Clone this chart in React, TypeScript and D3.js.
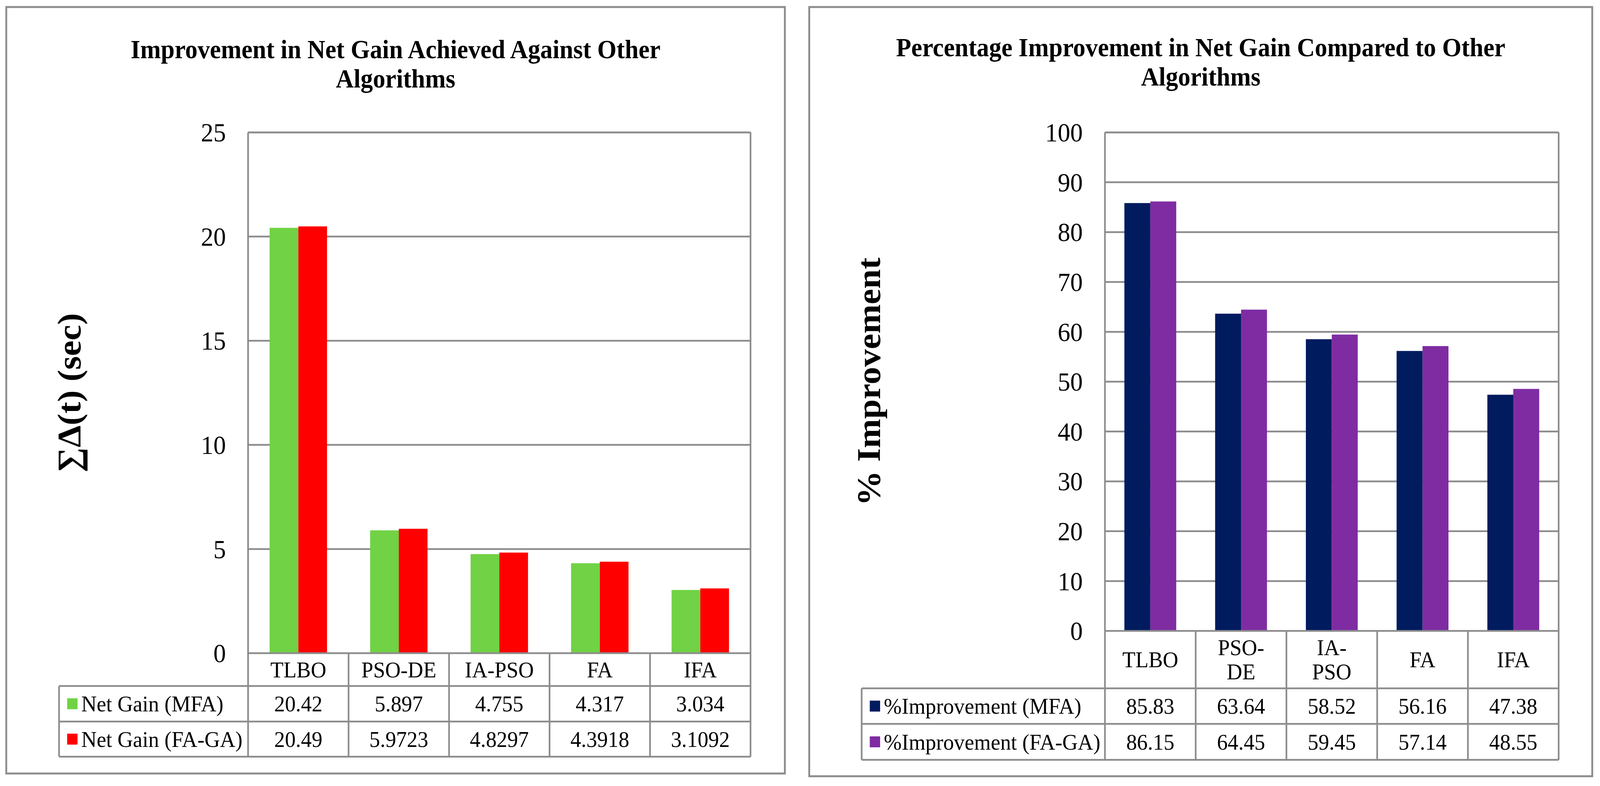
import * as d3 from "d3";
import React from "react";

const categories = ["TLBO", "PSO-DE", "IA-PSO", "FA", "IFA"];
const pctCategoryLines = [["TLBO"], ["PSO-", "DE"], ["IA-", "PSO"], ["FA"], ["IFA"]];

const netGainMFA = [20.42, 5.897, 4.755, 4.317, 3.034];
const netGainFAGA = [20.49, 5.9723, 4.8297, 4.3918, 3.1092];
const netGainTicks = [0, 5, 10, 15, 20, 25];

const pctMFA = [85.83, 63.64, 58.52, 56.16, 47.38];
const pctFAGA = [86.15, 64.45, 59.45, 57.14, 48.55];
const pctTicks = [0, 10, 20, 30, 40, 50, 60, 70, 80, 90, 100];

const GRID = "#8c8c8c";
const FONT = "'Liberation Serif', 'Times New Roman', serif";
const W = 4334;
const H = 2012;

interface Series {
  name: string;
  color: string;
  values: number[];
}

interface PanelProps {
  frame: { x: number; y: number; w: number; h: number };
  plot: { x0: number; x1: number; y0: number; y1: number };
  tableLeft: number;
  rows: number[];
  title: string[];
  titleY: number[];
  yLabel: string;
  yLabelX: number;
  yMax: number;
  ticks: number[];
  catLines: string[][];
  series: Series[];
}

const Panel: React.FC<PanelProps> = (p) => {
  const x = d3.scaleBand<string>().domain(categories).range([p.plot.x0, p.plot.x1]).paddingInner(0).paddingOuter(0);
  // Excel style: two bars per category, 150% gap width
  const inner = d3
    .scaleBand<string>()
    .domain(p.series.map((s) => s.name))
    .range([0, x.bandwidth()])
    .paddingInner(0)
    .paddingOuter(0.75);
  const y = d3.scaleLinear().domain([0, p.yMax]).range([p.plot.y1, p.plot.y0]);
  const cx = p.frame.x + p.frame.w / 2;
  const [rCat, rTop, rMid, rBot] = p.rows;
  const catMid = (rCat + rTop) / 2;

  return (
    <g>
      <rect x={p.frame.x} y={p.frame.y} width={p.frame.w} height={p.frame.h} fill="#fff" stroke={GRID} strokeWidth={5} />
      {p.title.map((t, i) => (
        <text key={i} x={cx} y={p.titleY[i]} textAnchor="middle" fontFamily={FONT} fontWeight="bold" fontSize={67}>
          {t}
        </text>
      ))}
      <text
        transform={`translate(${p.yLabelX},${(p.plot.y0 + p.plot.y1) / 2}) rotate(-90)`}
        textAnchor="middle"
        dominantBaseline="central"
        fontFamily={FONT}
        fontWeight="bold"
        fontSize={90}
      >
        {p.yLabel}
      </text>
      {/* gridlines + tick labels */}
      {p.ticks.map((t) => (
        <g key={t}>
          {t > 0 && <line x1={p.plot.x0} x2={p.plot.x1} y1={y(t)} y2={y(t)} stroke={GRID} strokeWidth={4.5} />}
          <text x={p.plot.x0 - 60} y={y(t)} textAnchor="end" dominantBaseline="central" fontFamily={FONT} fontSize={68}>
            {t}
          </text>
        </g>
      ))}
      {/* bars */}
      {p.series.map((s) =>
        categories.map((c, i) => (
          <rect
            key={s.name + c}
            x={(x(c) ?? 0) + (inner(s.name) ?? 0)}
            y={y(s.values[i])}
            width={inner.bandwidth()}
            height={y(0) - y(s.values[i])}
            fill={s.color}
          />
        ))
      )}
      {/* plot border */}
      <line x1={p.plot.x0} x2={p.plot.x1} y1={p.plot.y0} y2={p.plot.y0} stroke={GRID} strokeWidth={4.5} />
      <line x1={p.plot.x0} x2={p.plot.x0} y1={p.plot.y0} y2={rBot} stroke={GRID} strokeWidth={4.5} />
      <line x1={p.plot.x1} x2={p.plot.x1} y1={p.plot.y0} y2={rBot} stroke={GRID} strokeWidth={4.5} />
      {/* data table */}
      <line x1={p.plot.x0} x2={p.plot.x1} y1={rCat} y2={rCat} stroke={GRID} strokeWidth={4.5} />
      {[rTop, rMid, rBot].map((ry) => (
        <line key={ry} x1={p.tableLeft} x2={p.plot.x1} y1={ry} y2={ry} stroke={GRID} strokeWidth={4.5} />
      ))}
      <line x1={p.tableLeft} x2={p.tableLeft} y1={rTop} y2={rBot} stroke={GRID} strokeWidth={4.5} />
      {categories.slice(1).map((c) => (
        <line key={c} x1={x(c)} x2={x(c)} y1={rCat} y2={rBot} stroke={GRID} strokeWidth={4.5} />
      ))}
      {categories.map((c, i) => {
        const lines = p.catLines[i];
        const cxb = (x(c) ?? 0) + x.bandwidth() / 2;
        return (
          <text key={c} x={cxb} textAnchor="middle" fontFamily={FONT} fontSize={58}>
            {lines.map((l, j) => (
              <tspan key={j} x={cxb} y={catMid + (j - (lines.length - 1) / 2) * 62} dominantBaseline="central">
                {l}
              </tspan>
            ))}
          </text>
        );
      })}
      {p.series.map((s, si) => {
        const rowMid = si === 0 ? (rTop + rMid) / 2 : (rMid + rBot) / 2;
        return (
          <g key={s.name}>
            <rect x={p.tableLeft + 22} y={rowMid - 14} width={28} height={28} fill={s.color} />
            <text x={p.tableLeft + 60} y={rowMid} dominantBaseline="central" fontFamily={FONT} fontSize={58}>
              {s.name}
            </text>
            {categories.map((c, i) => (
              <text
                key={c}
                x={(x(c) ?? 0) + x.bandwidth() / 2}
                y={rowMid}
                textAnchor="middle"
                dominantBaseline="central"
                fontFamily={FONT}
                fontSize={58}
              >
                {String(s.values[i])}
              </text>
            ))}
          </g>
        );
      })}
    </g>
  );
};

export default function App() {
  return (
    <svg
      viewBox={`0 0 ${W} ${H}`}
      width={W}
      height={H}
      preserveAspectRatio="none"
      style={{ position: "fixed", left: 0, top: 0, width: "100vw", height: "100vh", display: "block" }}
    >
      <rect width={W} height={H} fill="#fff" />
      <Panel
        frame={{ x: 17, y: 18, w: 2109, h: 1962 }}
        plot={{ x0: 672, x1: 2033, y0: 339, y1: 1672 }}
        tableLeft={160}
        rows={[1672, 1756, 1847, 1937]}
        title={["Improvement in Net Gain Achieved Against Other", "Algorithms"]}
        titleY={[149, 224]}
        yLabel="∑Δ(t) (sec)"
        yLabelX={188}
        yMax={25}
        ticks={netGainTicks}
        catLines={categories.map((c) => [c])}
        series={[
          { name: "Net Gain (MFA)", color: "#70d244", values: netGainMFA },
          { name: "Net Gain (FA-GA)", color: "#ff0000", values: netGainFAGA },
        ]}
      />
      <Panel
        frame={{ x: 2192, y: 18, w: 2121, h: 1969 }}
        plot={{ x0: 2993, x1: 4222, y0: 339, y1: 1615 }}
        tableLeft={2334}
        rows={[1615, 1762, 1853, 1945]}
        title={["Percentage Improvement in Net Gain Compared to Other", "Algorithms"]}
        titleY={[144, 219]}
        yLabel="% Improvement"
        yLabelX={2354}
        yMax={100}
        ticks={pctTicks}
        catLines={pctCategoryLines}
        series={[
          { name: "%Improvement (MFA)", color: "#011b5f", values: pctMFA },
          { name: "%Improvement (FA-GA)", color: "#7f2ca3", values: pctFAGA },
        ]}
      />
    </svg>
  );
}
